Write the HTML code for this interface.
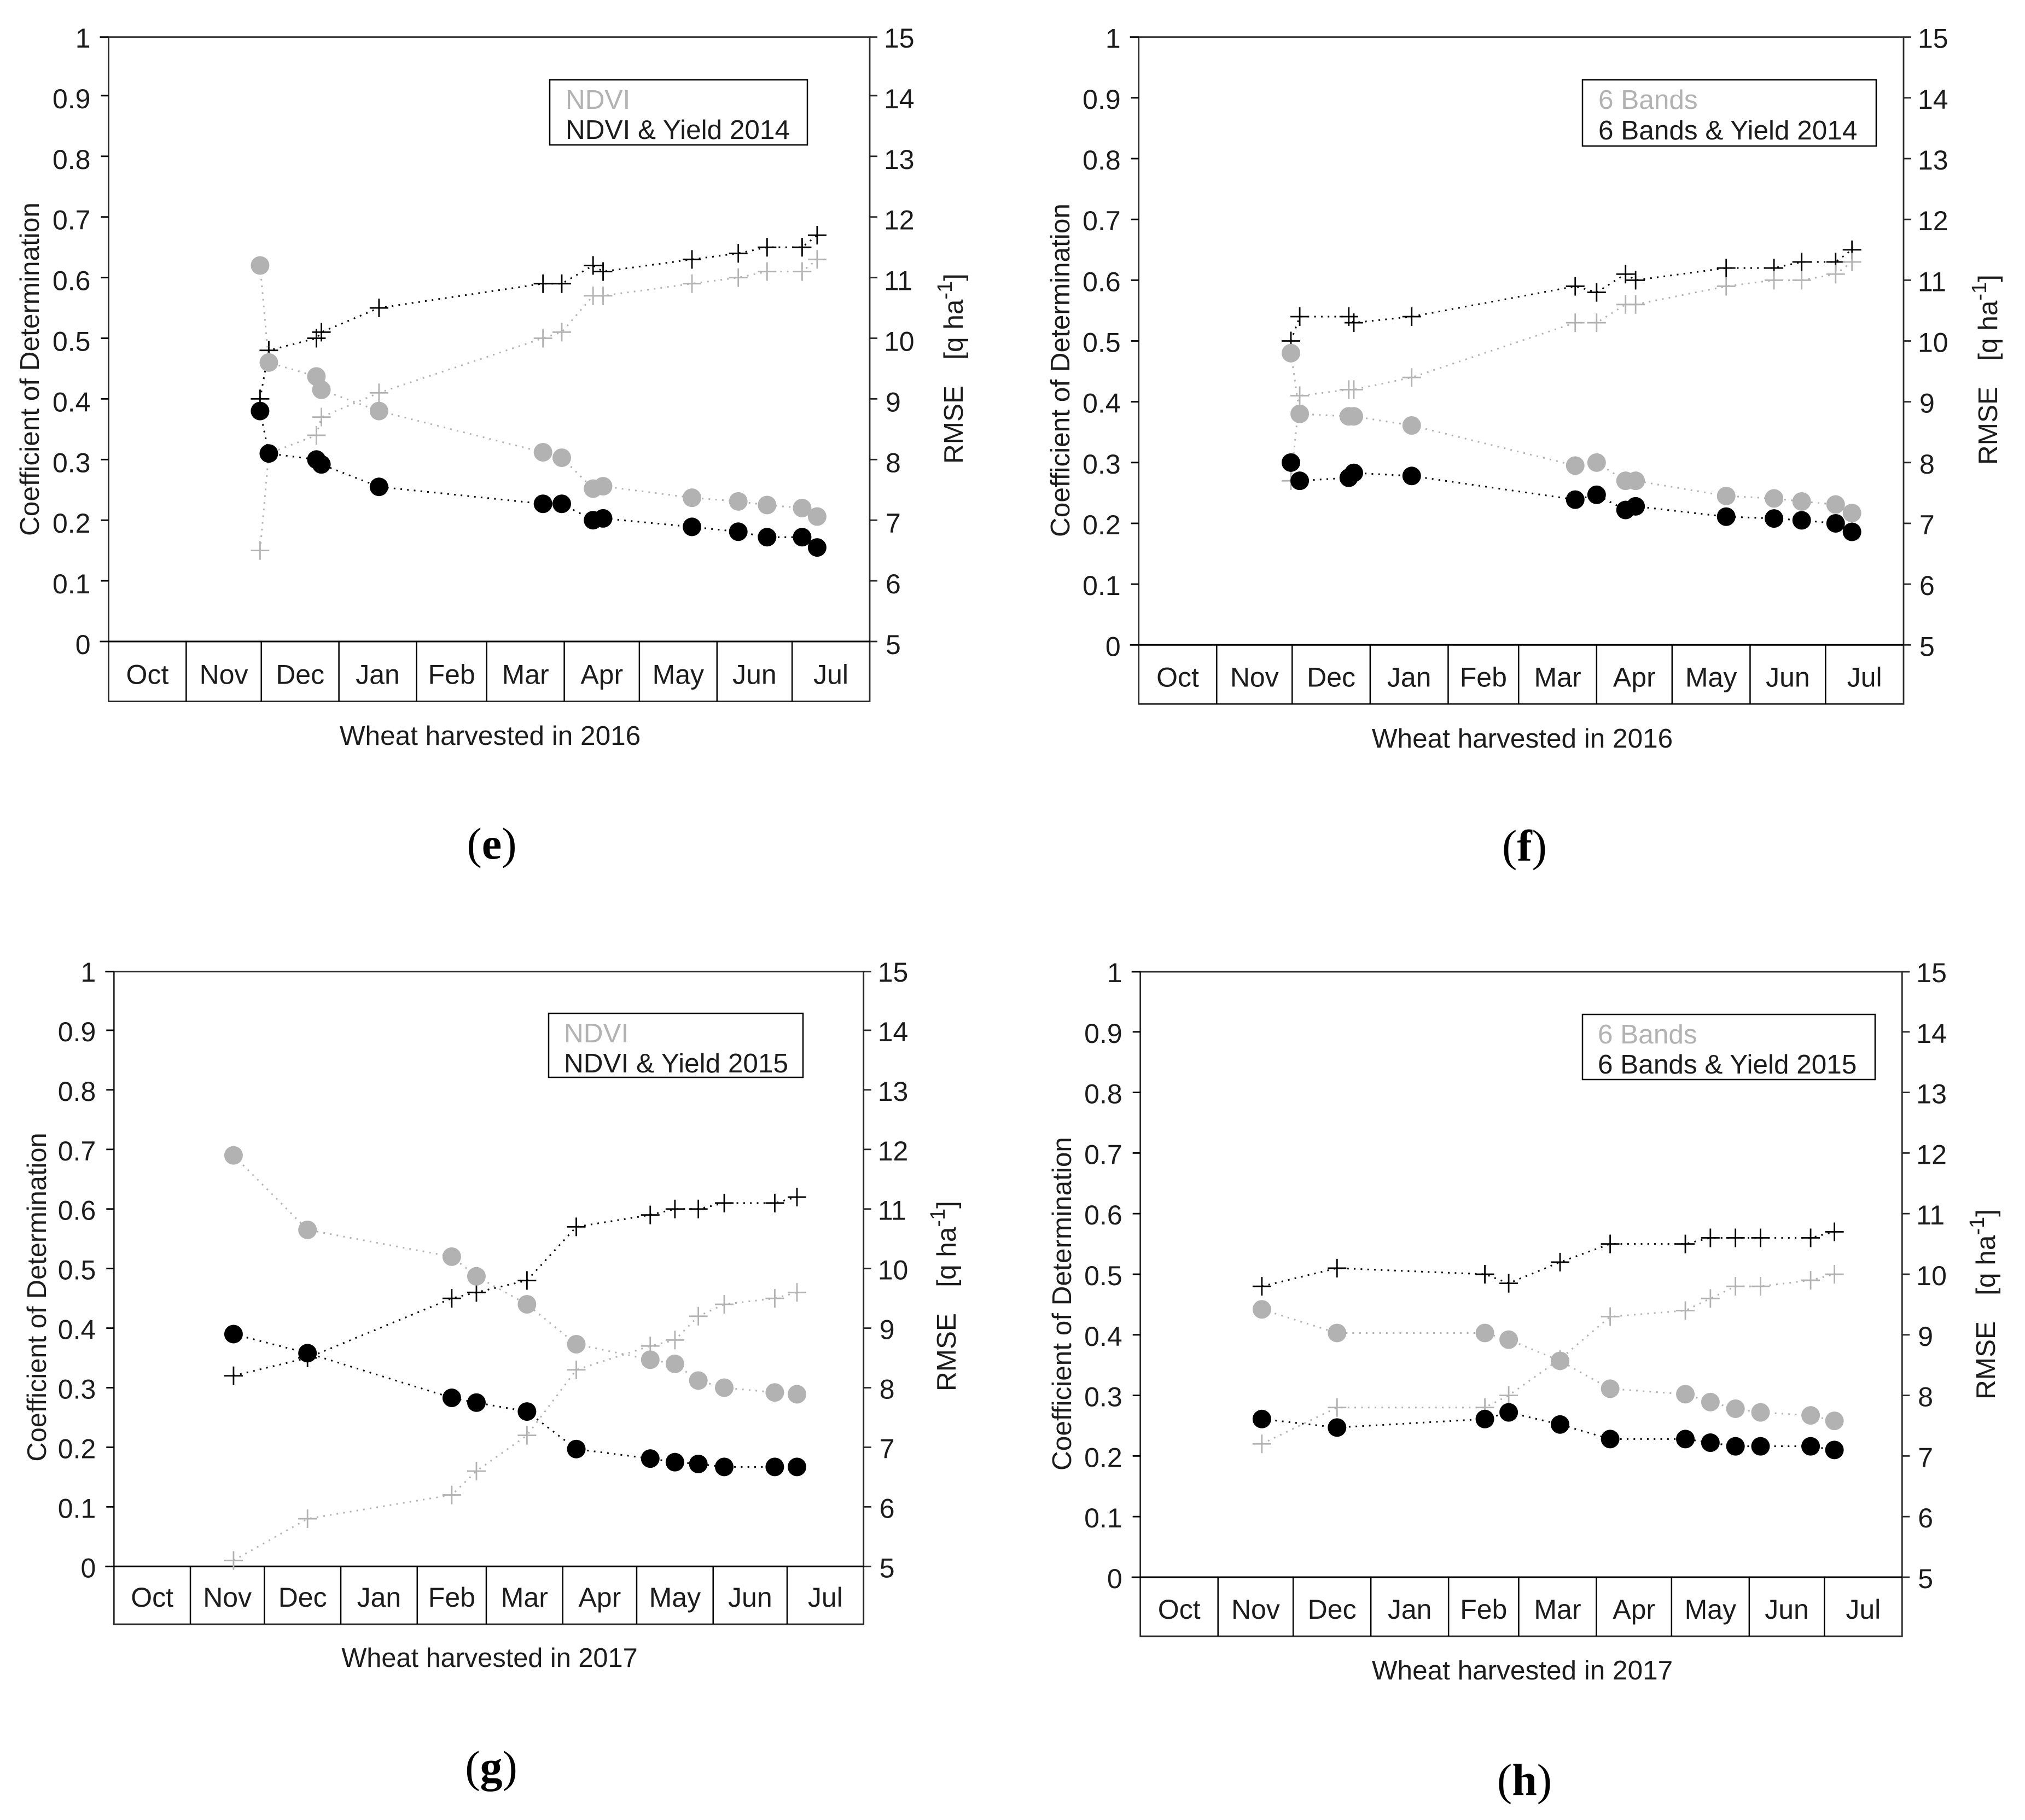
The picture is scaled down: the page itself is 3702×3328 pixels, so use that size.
<!DOCTYPE html>
<html lang="en">
<head>
<meta charset="utf-8">
<title>Wheat yield prediction: R2 and RMSE through the season</title>
<style>
  html, body { margin: 0; padding: 0; background: #fff; }
  svg { display: block; }
  text { font-family: "Liberation Sans", Arial, sans-serif; fill: #1c1c1c; }
  .axis-title, .legend-text { font-size: 49.5px; }
  .tick-text, .month-text { font-size: 50px; }
  .gray-text { fill: #b2b2b2; }
  .panel-letter { font-family: "Liberation Serif", serif; font-size: 82px; fill: #000; }
  .panel-letter tspan { font-weight: bold; }
</style>
</head>
<body>
<svg id="figure" xmlns="http://www.w3.org/2000/svg" width="3702" height="3328" viewBox="0 0 3702 3328">
  <rect x="0" y="0" width="3702" height="3328" fill="#fff"/>

  <g id="panel-e">
    <text class="axis-title" text-anchor="middle" transform="translate(71 675) rotate(-90)">Coefficient of Determination</text>
    <text class="axis-title" xml:space="preserve" fill="#333" transform="translate(1760 848) rotate(-90)">RMSE   <tspan dx="6">[q ha</tspan><tspan font-size="38" dy="-20">-1</tspan><tspan dy="20">]</tspan></text>
    <text class="axis-title" text-anchor="middle" x="896" y="1362">Wheat harvested in 2016</text>
    <g>
      <rect x="1005" y="146" width="471" height="119" fill="#fff" stroke="#000" stroke-width="2.5"/>
      <text class="legend-text gray-text" x="1034" y="199">NDVI</text>
      <text class="legend-text" x="1034" y="254">NDVI &amp; Yield 2014</text>
    </g>
    <text class="panel-letter" text-anchor="middle" x="899" y="1570">(<tspan>e</tspan>)</text>
  </g>

  <g id="panel-f">
    <text class="axis-title" text-anchor="middle" transform="translate(1955 677) rotate(-90)">Coefficient of Determination</text>
    <text class="axis-title" xml:space="preserve" fill="#333" transform="translate(3651 850) rotate(-90)">RMSE   <tspan dx="6">[q ha</tspan><tspan font-size="38" dy="-20">-1</tspan><tspan dy="20">]</tspan></text>
    <text class="axis-title" text-anchor="middle" x="2783" y="1367">Wheat harvested in 2016</text>
    <g>
      <rect x="2893" y="146" width="537" height="121" fill="#fff" stroke="#000" stroke-width="2.5"/>
      <text class="legend-text gray-text" x="2922" y="199">6 Bands</text>
      <text class="legend-text" x="2922" y="255">6 Bands &amp; Yield 2014</text>
    </g>
    <text class="panel-letter" text-anchor="middle" x="2787" y="1574">(<tspan>f</tspan>)</text>
  </g>

  <g id="panel-g">
    <text class="axis-title" font-size="48.8" style="font-size:48.8px" text-anchor="middle" transform="translate(84 2372) rotate(-90)">Coefficient of Determination</text>
    <text class="axis-title" xml:space="preserve" fill="#333" transform="translate(1747 2544) rotate(-90)">RMSE   <tspan dx="6">[q ha</tspan><tspan font-size="38" dy="-20">-1</tspan><tspan dy="20">]</tspan></text>
    <text class="axis-title" style="font-size:48.7px" text-anchor="middle" x="895" y="3048">Wheat harvested in 2017</text>
    <g>
      <rect x="1003" y="1853" width="465" height="117" fill="#fff" stroke="#000" stroke-width="2.5"/>
      <text class="legend-text gray-text" x="1031" y="1906">NDVI</text>
      <text class="legend-text" x="1031" y="1961">NDVI &amp; Yield 2015</text>
    </g>
    <text class="panel-letter" text-anchor="middle" x="898" y="3258">(<tspan>g</tspan>)</text>
  </g>

  <g id="panel-h">
    <text class="axis-title" text-anchor="middle" transform="translate(1958 2384) rotate(-90)">Coefficient of Determination</text>
    <text class="axis-title" xml:space="preserve" fill="#333" transform="translate(3647 2559) rotate(-90)">RMSE   <tspan dx="6">[q ha</tspan><tspan font-size="38" dy="-20">-1</tspan><tspan dy="20">]</tspan></text>
    <text class="axis-title" text-anchor="middle" x="2783" y="3071">Wheat harvested in 2017</text>
    <g>
      <rect x="2893" y="1855" width="535" height="119" fill="#fff" stroke="#000" stroke-width="2.5"/>
      <text class="legend-text gray-text" x="2921" y="1908">6 Bands</text>
      <text class="legend-text" x="2921" y="1963">6 Bands &amp; Yield 2015</text>
    </g>
    <text class="panel-letter" text-anchor="middle" x="2787" y="3282">(<tspan>h</tspan>)</text>
  </g>
</svg>

<script>
// Shared axis data
const months = ['Oct', 'Nov', 'Dec', 'Jan', 'Feb', 'Mar', 'Apr', 'May', 'Jun', 'Jul'];
const monthLengths = [31, 30, 31, 31, 28, 31, 30, 31, 30, 31];
const r2Ticks = ['0', '0.1', '0.2', '0.3', '0.4', '0.5', '0.6', '0.7', '0.8', '0.9', '1'];
const rmseTicks = ['5', '6', '7', '8', '9', '10', '11', '12', '13', '14', '15'];

// Panel (e): NDVI, harvest 2016. Days counted from 1 October.
const eDays = [60.5, 64, 83, 85, 108, 173.5, 181, 193.5, 197.5, 233, 251.5, 263, 277, 283];
const eR2Base = [0.15, 0.31, 0.34, 0.37, 0.41, 0.50, 0.51, 0.57, 0.57, 0.59, 0.60, 0.61, 0.61, 0.63];
const eR2Yield = [0.40, 0.48, 0.50, 0.51, 0.55, 0.59, 0.59, 0.62, 0.61, 0.63, 0.64, 0.65, 0.65, 0.67];
const eRmseBase = [11.2, 9.6, 9.37, 9.15, 8.8, 8.12, 8.03, 7.52, 7.56, 7.37, 7.31, 7.25, 7.2, 7.06];
const eRmseYield = [8.8, 8.1, 8.0, 7.92, 7.55, 7.27, 7.27, 7.0, 7.03, 6.89, 6.81, 6.72, 6.72, 6.55];

// Panel (f): 6 bands, harvest 2016.
const fDays = [60.5, 64, 83.5, 85.5, 108.5, 173.5, 182, 193.5, 197.5, 233.5, 252.5, 263.5, 277, 283.5];
const fR2Base = [0.27, 0.41, 0.42, 0.42, 0.44, 0.53, 0.53, 0.56, 0.56, 0.59, 0.60, 0.60, 0.61, 0.63];
const fR2Yield = [0.50, 0.54, 0.54, 0.53, 0.54, 0.59, 0.58, 0.61, 0.60, 0.62, 0.62, 0.63, 0.63, 0.65];
const fRmseBase = [9.8, 8.8, 8.76, 8.76, 8.61, 7.95, 8.0, 7.7, 7.7, 7.45, 7.41, 7.36, 7.31, 7.17];
const fRmseYield = [8.0, 7.7, 7.75, 7.83, 7.78, 7.39, 7.47, 7.22, 7.28, 7.11, 7.08, 7.05, 7.0, 6.86];

// Panel (g): NDVI, harvest 2017.
const gDays = [48.5, 78.5, 137, 147, 167.5, 187.5, 217.5, 227.5, 237, 247.5, 268, 277];
const gR2Base = [0.01, 0.08, 0.12, 0.16, 0.22, 0.33, 0.37, 0.38, 0.42, 0.44, 0.45, 0.46];
const gR2Yield = [0.32, 0.35, 0.45, 0.46, 0.48, 0.57, 0.59, 0.60, 0.60, 0.61, 0.61, 0.62];
const gRmseBase = [11.9, 10.65, 10.2, 9.87, 9.4, 8.73, 8.47, 8.4, 8.12, 8.0, 7.92, 7.89];
const gRmseYield = [8.9, 8.58, 7.83, 7.75, 7.6, 6.97, 6.81, 6.75, 6.72, 6.67, 6.67, 6.67];

// Panel (h): 6 bands, harvest 2017.
const hDays = [48.5, 78.5, 137.5, 147, 167.5, 187.5, 217.5, 227.5, 237.5, 247.5, 267.5, 277];
const hR2Base = [0.22, 0.28, 0.28, 0.30, 0.36, 0.43, 0.44, 0.46, 0.48, 0.48, 0.49, 0.50];
const hR2Yield = [0.48, 0.51, 0.50, 0.485, 0.52, 0.55, 0.55, 0.56, 0.56, 0.56, 0.56, 0.57];
const hRmseBase = [9.42, 9.03, 9.03, 8.92, 8.57, 8.11, 8.02, 7.89, 7.78, 7.72, 7.67, 7.58];
const hRmseYield = [7.61, 7.47, 7.61, 7.72, 7.52, 7.28, 7.28, 7.22, 7.16, 7.16, 7.16, 7.1];

const GRAY = '#b2b2b2';
const BLACK = '#000000';
const LINE_DARK = '#2a2a2a';
const NS = 'http://www.w3.org/2000/svg';

const panels = [
  { id: 'panel-e', frame: { left: 198.5, right: 1590, top: 67.7, scaleTop: 64, zero: 1173, bottom: 1282.6, labelDrop: 23 },
    days: eDays, r2Base: eR2Base, r2Yield: eR2Yield, rmseBase: eRmseBase, rmseYield: eRmseYield },
  { id: 'panel-f', frame: { left: 2081.7, right: 3480, top: 67.7, scaleTop: 67.7, zero: 1179.3, bottom: 1287.3, labelDrop: 20 },
    days: fDays, r2Base: fR2Base, r2Yield: fR2Yield, rmseBase: fRmseBase, rmseYield: fRmseYield },
  { id: 'panel-g', frame: { left: 208.3, right: 1578.7, top: 1776.7, scaleTop: 1775, zero: 2864.3, bottom: 2970, labelDrop: 20 },
    days: gDays, r2Base: gR2Base, r2Yield: gR2Yield, rmseBase: gRmseBase, rmseYield: gRmseYield },
  { id: 'panel-h', frame: { left: 2084.7, right: 3477.3, top: 1777, scaleTop: 1776, zero: 2884, bottom: 2992, labelDrop: 20 },
    days: hDays, r2Base: hR2Base, r2Yield: hR2Yield, rmseBase: hRmseBase, rmseYield: hRmseYield }
];

function svgEl(parent, tag, attrs, content) {
  const el = document.createElementNS(NS, tag);
  for (const key in attrs) el.setAttribute(key, attrs[key]);
  if (content !== undefined) el.textContent = content;
  parent.appendChild(el);
  return el;
}

function drawFrame(root, f, xScale) {
  const axes = svgEl(root, 'g', {});
  
  

  const plotArea = svgEl(axes, 'rect', { x: f.left, y: f.top, width: f.right - f.left, height: f.bottom - f.top, fill: 'none', stroke: LINE_DARK, 'stroke-width': 2.8 });
  
  

  const baseline = svgEl(axes, 'line', { x1: f.left, x2: f.right, y1: f.zero, y2: f.zero, stroke: BLACK, 'stroke-width': 3 });
  
  

  let dayCursor = 0;
  months.forEach(function (name, i) {
    const start = dayCursor;
    dayCursor += monthLengths[i];
    if (i < months.length - 1) {
      const divider = svgEl(axes, 'line', { x1: xScale(dayCursor), x2: xScale(dayCursor), y1: f.zero, y2: f.bottom, stroke: BLACK, 'stroke-width': 2.5 });
      
      
    }
    const label = svgEl(axes, 'text', { class: 'month-text', 'text-anchor': 'middle', x: xScale((start + dayCursor) / 2), y: f.bottom - 32 }, name);
    
    
  });
}

function drawYAxes(root, f, yLeft, yRight) {
  const axes = svgEl(root, 'g', {});
  
  

  r2Ticks.forEach(function (tick) {
    const v = Number(tick);
    const y = v === 1 ? f.top : yLeft(v);
    const len = v === 1 || v === 0 ? 16 : 14;
    const mark = svgEl(axes, 'line', { x1: f.left - len, x2: f.left, y1: y, y2: y, stroke: BLACK, 'stroke-width': 2.8 });
    
    
    const label = svgEl(axes, 'text', { class: 'tick-text', 'text-anchor': 'end', x: f.left - 33, y: yLeft(v) + f.labelDrop }, tick);
    
    
  });

  rmseTicks.forEach(function (tick) {
    const v = Number(tick);
    const y = v === 15 ? f.top : yRight(v);
    const mark = svgEl(axes, 'line', { x1: f.right, x2: f.right + 14, y1: y, y2: y, stroke: LINE_DARK, 'stroke-width': 2.8 });
    
    
    const label = svgEl(axes, 'text', { class: 'tick-text', x: f.right + (tick.length > 1 ? 26 : 29), y: yRight(v) + f.labelDrop }, tick);
    
    
  });
}

function drawLine(root, days, values, xScale, yScale, colour, name) {
  const pts = days.map(function (d, i) { return xScale(d) + ',' + yScale(values[i]); }).join(' ');
  const line = svgEl(root, 'polyline', { points: pts, fill: 'none', stroke: colour, 'stroke-width': 3, 'stroke-dasharray': '3 9.3' });
  
  
}

function drawPlusSeries(root, days, values, xScale, yScale, colour, name) {
  const group = svgEl(root, 'g', {});
  
  
  drawLine(group, days, values, xScale, yScale, colour, name + '-line');
  days.forEach(function (d, i) {
    const x = xScale(d);
    const y = yScale(values[i]);
    const plus = svgEl(group, 'path', { d: 'M' + (x - 17) + ' ' + y + 'H' + (x + 17) + 'M' + x + ' ' + (y - 17) + 'V' + (y + 17), fill: 'none', stroke: colour, 'stroke-width': 2.8 });
    
    
  });
}

function drawCircleSeries(root, days, values, xScale, yScale, colour, name) {
  const group = svgEl(root, 'g', {});
  
  
  drawLine(group, days, values, xScale, yScale, colour, name + '-line');
  days.forEach(function (d, i) {
    const dot = svgEl(group, 'circle', { cx: xScale(d), cy: yScale(values[i]), r: 17, fill: colour });
    
    
  });
}

panels.forEach(function (panel) {
  const root = document.getElementById(panel.id);
  const f = panel.frame;
  const totalDays = monthLengths.reduce(function (a, b) { return a + b; }, 0);
  const xScale = function (day) { return f.left + (day / totalDays) * (f.right - f.left); };
  const yLeft = function (v) { return f.zero - v * (f.zero - f.scaleTop); };
  const yRight = function (v) { return f.zero - ((v - 5) / 10) * (f.zero - f.scaleTop); };

  drawFrame(root, f, xScale);
  drawYAxes(root, f, yLeft, yRight);
  drawPlusSeries(root, panel.days, panel.r2Yield, xScale, yLeft, BLACK, 'r2-with-yield-series');
  drawPlusSeries(root, panel.days, panel.r2Base, xScale, yLeft, GRAY, 'r2-base-series');
  drawCircleSeries(root, panel.days, panel.rmseBase, xScale, yRight, GRAY, 'rmse-base-series');
  drawCircleSeries(root, panel.days, panel.rmseYield, xScale, yRight, BLACK, 'rmse-with-yield-series');
});
</script>
</body>
</html>
